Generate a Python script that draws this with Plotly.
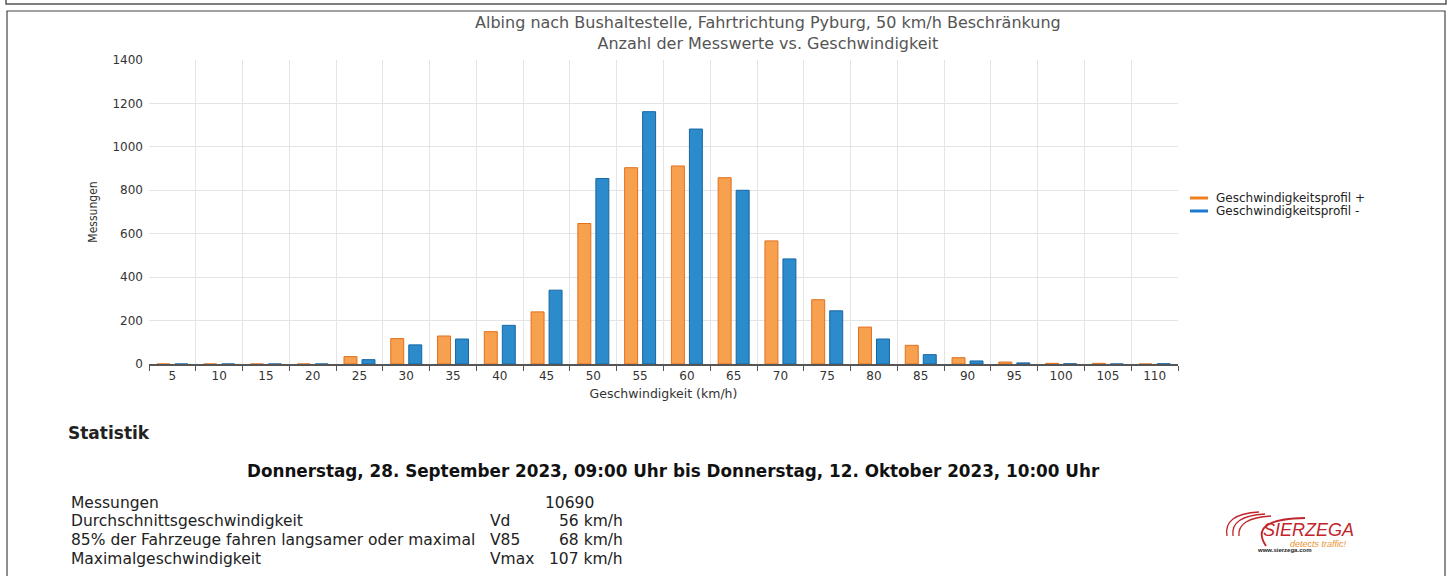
import plotly.graph_objects as go

# Speed classes (km/h) and counts per direction
speeds = ["5", "10", "15", "20", "25", "30", "35", "40", "45", "50", "55",
          "60", "65", "70", "75", "80", "85", "90", "95", "100", "105", "110"]
profile_plus = [0, 0, 0, 0, 34, 117, 129, 149, 240, 647, 904,
                912, 858, 567, 296, 170, 86, 29, 9, 3, 3, 0]
profile_minus = [0, 0, 0, 0, 20, 88, 115, 178, 340, 854, 1162,
                 1082, 800, 484, 245, 115, 43, 14, 5, 1, 0, 1]
series_names = ["Geschwindigkeitsprofil +", "Geschwindigkeitsprofil -"]

# Statistics block
stat_labels = ["Messungen", "Durchschnittsgeschwindigkeit",
               "85% der Fahrzeuge fahren langsamer oder maximal", "Maximalgeschwindigkeit"]
stat_symbols = ["", "Vd", "V85", "Vmax"]
stat_values = ["10690", "56 km/h", "68 km/h", "107 km/h"]
period = "Donnerstag, 28. September 2023, 09:00 Uhr bis Donnerstag, 12. Oktober 2023, 10:00 Uhr"

W, H = 1453, 576
FONT = "DejaVu Sans"


def px(x):
    return x / W


def py(y):
    return 1 - y / H


fig = go.Figure()
fig.add_trace(go.Bar(
    x=speeds, y=profile_plus, name=series_names[0], showlegend=False,
    marker=dict(color="#F7A04E", line=dict(color="#E2701F", width=1)),
))
fig.add_trace(go.Bar(
    x=speeds, y=profile_minus, name=series_names[1], showlegend=False,
    marker=dict(color="#2B8BCB", line=dict(color="#1666A6", width=1)),
))

annotations = [
    dict(text="Albing nach Bushaltestelle, Fahrtrichtung Pyburg, 50 km/h Beschränkung"
              "<br>Anzahl der Messwerte vs. Geschwindigkeit",
         x=px(768), y=py(33), font=dict(size=16, color="#555")),
    dict(text="<b>Statistik</b>", x=px(66), y=py(433), xanchor="left",
         font=dict(size=17, color="#222")),
    dict(text="<b>" + period + "</b>", x=px(673), y=py(471),
         font=dict(size=16.8, color="#111")),
]
row_y = [503, 521, 540, 559]
for lab, sym, val, yy in zip(stat_labels, stat_symbols, stat_values, row_y):
    annotations.append(dict(text=lab, x=px(69), y=py(yy), xanchor="left",
                            font=dict(size=15.5, color="#222")))
    if sym:
        annotations.append(dict(text=sym, x=px(488), y=py(yy), xanchor="left",
                                font=dict(size=15.5, color="#222")))
        annotations.append(dict(text=val, x=px(625), y=py(yy), xanchor="right",
                                font=dict(size=15.5, color="#222")))
    else:
        annotations.append(dict(text=val, x=px(596), y=py(yy), xanchor="right",
                                font=dict(size=15.5, color="#222")))

# manual legend (tight line spacing as in the original)
legend_cols = ["#F07F22", "#1A7AD0"]
legend_y = [198, 211]
for name, yy in zip(series_names, legend_y):
    annotations.append(dict(text=name, x=px(1214), y=py(yy), xanchor="left",
                            font=dict(size=12, color="#222")))

# logo text
annotations += [
    dict(text="<i>SIERZEGA</i>", x=px(1308), y=py(530),
         font=dict(size=18, color="#C0252B", family="Liberation Sans")),
    dict(text="<i>detects traffic!</i>", x=px(1318), y=py(544),
         font=dict(size=9, color="#E8932E", family="Liberation Sans")),
    dict(text="<b>www.sierzega.com</b>", x=px(1284), y=py(550),
         font=dict(size=6, color="#222", family="Liberation Sans")),
]
for a in annotations:
    a.setdefault("xref", "paper")
    a.setdefault("yref", "paper")
    a.setdefault("showarrow", False)
    a.setdefault("xanchor", "center")
    a.setdefault("yanchor", "middle")
    a["font"].setdefault("family", FONT)


def arc(x0, y0, cx, cy, x1, y1):
    return f"M {px(x0)},{py(y0)} Q {px(cx)},{py(cy)} {px(x1)},{py(y1)}"


shapes = [
    # page frames
    dict(type="rect", x0=px(6), x1=px(1446), y0=py(4), y1=py(-10),
         line=dict(color="#555", width=1.5)),
    dict(type="rect", x0=px(7), x1=px(1445), y0=py(11), y1=py(580),
         line=dict(color="#444", width=1.2)),
]
for col, yy in zip(legend_cols, legend_y):
    shapes.append(dict(type="line", x0=px(1190), x1=px(1208), y0=py(yy), y1=py(yy),
                       line=dict(color=col, width=3)))
# logo swooshes
for i in range(3):
    ax = 1227 + i * 6
    shapes.append(dict(type="path",
                       path=arc(ax, 536, ax - 4 + i, 514 + i * 2, ax + 32, 512 + i * 2),
                       line=dict(color="#C0252B", width=1.3)))
shapes.append(dict(type="path",
                   path=arc(1266, 546, 1248, 519, 1305, 518),
                   line=dict(color="#C0252B", width=1.8)))
for s in shapes:
    s["xref"] = "paper"
    s["yref"] = "paper"

fig.update_layout(
    width=W, height=H,
    margin=dict(l=0, r=0, t=0, b=0, autoexpand=False),
    paper_bgcolor="white", plot_bgcolor="white",
    font=dict(family=FONT, size=12, color="#333"),
    showlegend=False,
    barmode="group", bargap=0.23, bargroupgap=0.28,
    xaxis=dict(
        domain=[px(149), px(1178)], type="category", tickson="boundaries",
        showgrid=True, gridcolor="#E4E4E4", gridwidth=1,
        showline=True, linecolor="#555", linewidth=1.5,
        ticks="outside", ticklen=5, tickcolor="#555",
        tickfont=dict(size=12, color="#333"),
        title=dict(text="Geschwindigkeit (km/h)", font=dict(size=12.5, color="#333"), standoff=7),
        fixedrange=True, automargin=False,
    ),
    yaxis=dict(
        domain=[py(364), py(60)], range=[0, 1400], dtick=200,
        showgrid=True, gridcolor="#E4E4E4", gridwidth=1, zeroline=False,
        tickfont=dict(size=12, color="#333"), ticks="", ticklabelstandoff=5,
        title=dict(text="Messungen", font=dict(size=12, color="#333",
                                               family="DejaVu Sans Condensed"), standoff=12),
        fixedrange=True, automargin=False,
    ),
    annotations=annotations,
    shapes=shapes,
)

# drop the browser's default body margin so the figure sits at the page corner
fig.write_html("out.html", config={"displayModeBar": False},
               post_script="document.body.style.margin = '0';")
